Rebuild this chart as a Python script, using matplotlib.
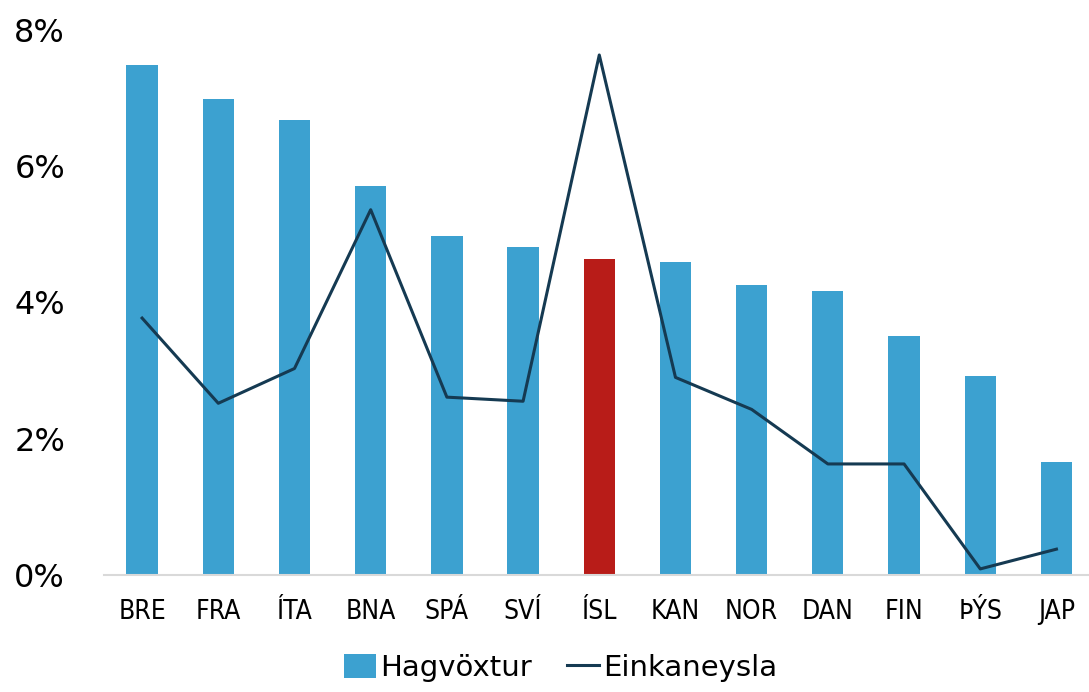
import matplotlib.pyplot as plt
from matplotlib.ticker import FuncFormatter

# data (%)
countries = ['BRE', 'FRA', 'ÍTA', 'BNA', 'SPÁ', 'SVÍ', 'ÍSL', 'KAN', 'NOR', 'DAN', 'FIN', 'ÞÝS', 'JAP']
hagvoxtur = [7.49, 6.99, 6.67, 5.71, 4.98, 4.82, 4.63, 4.59, 4.26, 4.16, 3.50, 2.92, 1.66]
einkaneysla = [3.77, 2.52, 3.03, 5.36, 2.61, 2.55, 7.63, 2.90, 2.43, 1.63, 1.63, 0.09, 0.38]

blue = '#3ca1d0'
red = '#b81c18'
navy = '#153a52'
colors = [red if c == 'ÍSL' else blue for c in countries]

plt.rcParams['font.family'] = ['DejaVu Sans']

fig = plt.figure(figsize=(10.89, 6.92), dpi=100)
ax = fig.add_axes([0.0955, 0.169, 0.904, 0.788])

x = list(range(len(countries)))
bars = ax.bar(x, hagvoxtur, width=0.41, color=colors, label='Hagvöxtur', zorder=2)
ax.plot(x, einkaneysla, color=navy, linewidth=2.2, label='Einkaneysla', zorder=3)

ax.set_ylim(0, 8)
ax.set_yticks([0, 2, 4, 6, 8])
ax.yaxis.set_major_formatter(FuncFormatter(lambda v, p: '%d%%' % v))
ax.set_xlim(-0.5, 12.42)
ax.set_xticks(x)
ax.set_xticklabels(countries, fontsize=19, fontstretch='condensed')

for s in ['top', 'right', 'left']:
    ax.spines[s].set_visible(False)
ax.spines['bottom'].set_color('#d9d9d9')
ax.spines['bottom'].set_linewidth(1.5)
ax.tick_params(axis='y', length=0, labelsize=23, pad=28)
ax.tick_params(axis='x', length=0, pad=17)

handles = [bars, ax.lines[0]]
fig.legend(handles, ['Hagvöxtur', 'Einkaneysla'], loc='center', bbox_to_anchor=(0.515, 0.035),
           ncol=2, frameon=False, fontsize=21, handlelength=1.1, handleheight=0.9,
           handletextpad=0.15, columnspacing=1.2)

plt.savefig('out.png', dpi=100)
